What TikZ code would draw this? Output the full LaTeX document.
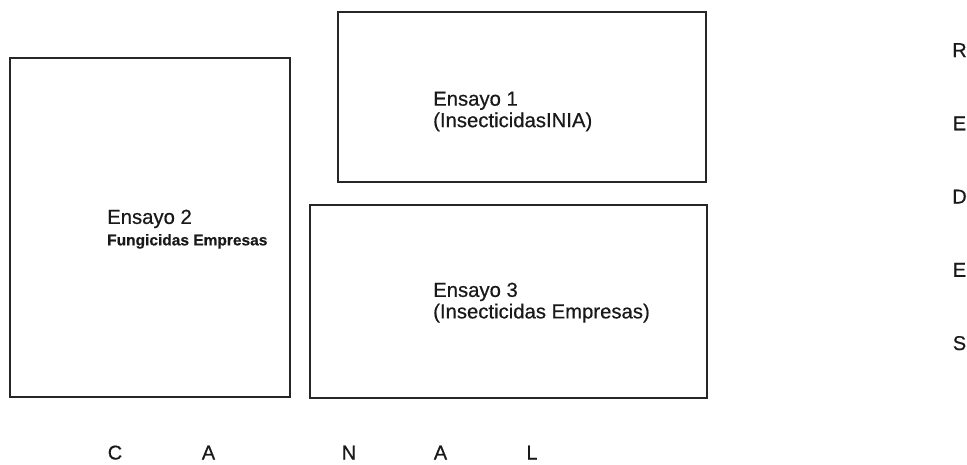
\documentclass[tikz,border=0pt]{standalone}
\usepackage{fontspec}
\setmainfont{Liberation Sans}
\newfontfamily\escaneo[FakeBold=0.5]{Liberation Sans}
\usetikzlibrary{positioning}
\tikzset{%
	parcela/.style = {draw=black!85, line width=1.7pt, rectangle, inner sep=0pt}, % Plot
	rotulo/.style  = {anchor=north west, align=left, inner sep=0pt, text=black!90, font=\escaneo\fontsize{20.3}{21.5}\selectfont}, % Label
	letra/.style   = {anchor=base, inner sep=0pt, text=black!90, font=\escaneo\fontsize{20}{21}\selectfont}, % Letter
}
\begin{document}
\begin{tikzpicture}[x=1pt,y=-1pt]
	\useasboundingbox (0,0) rectangle (967,464);
	\node [parcela,minimum width=280pt,minimum height=339pt] (ens2) at (150,227.5) {};
	\node [parcela,minimum width=368pt,minimum height=170pt] (ens1) at (522,97) {};
	\node [parcela,minimum width=397pt,minimum height=193pt] (ens3) at (508.5,301.5) {};
	
	\node [rotulo] (t1) at (433,91.5) {Ensayo 1\\(InsecticidasINIA)};
	\node [rotulo] (t2) at (107,209.5) {Ensayo 2\\{\fontsize{15.5}{21}\selectfont\bfseries Fungicidas Empresas}};
	\node [rotulo] (t3) at (433,282.5) {Ensayo 3\\(Insecticidas Empresas)};
	
	\foreach \l [count=\i] in {R,E,D,E,S}
		\node [letra] (redes\i) at (959.5,{57+73.25*(\i-1)}) {\l};
	\foreach \l/\x [count=\i] in {C/115,A/208.5,N/349,A/440.5,L/532}
		\node [letra] (canal\i) at (\x,459.5) {\l};
\end{tikzpicture}
\end{document}
